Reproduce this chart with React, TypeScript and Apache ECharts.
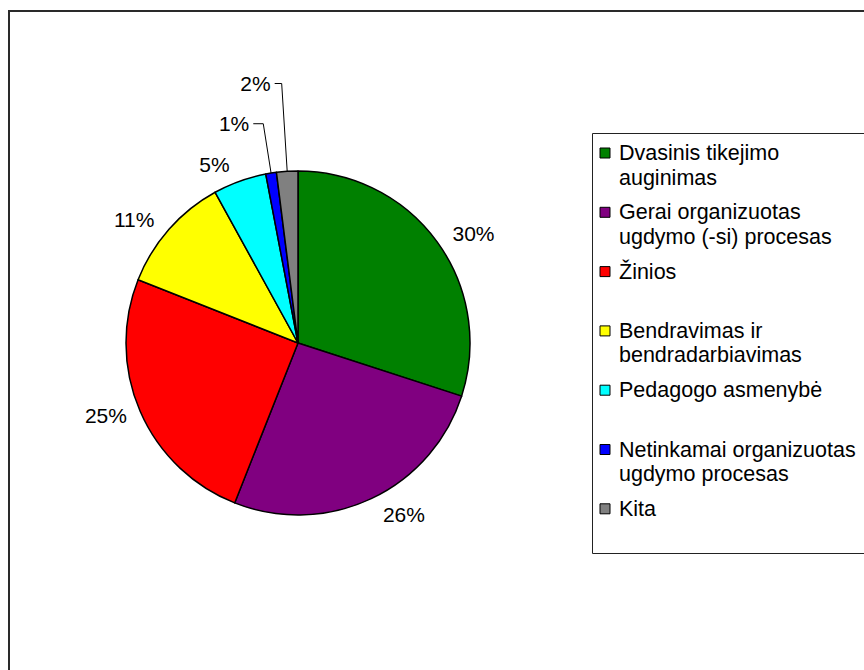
import React, { useEffect, useRef } from "react";
import * as echarts from "echarts";

const categories = [
  "Dvasinis tikejimo auginimas",
  "Gerai organizuotas ugdymo (-si) procesas",
  "Žinios",
  "Bendravimas ir bendradarbiavimas",
  "Pedagogo asmenybė",
  "Netinkamai organizuotas ugdymo procesas",
  "Kita",
];
const legendLabels = [
  "Dvasinis tikejimo\nauginimas",
  "Gerai organizuotas\nugdymo (-si) procesas",
  "Žinios",
  "Bendravimas ir\nbendradarbiavimas",
  "Pedagogo asmenybė",
  "Netinkamai organizuotas\nugdymo procesas",
  "Kita",
];
const values = [30, 26, 25, 11, 5, 1, 2];
const colors = ["#008000", "#800080", "#FF0000", "#FFFF00", "#00FFFF", "#0000FF", "#808080"];
const labelLineShow = [false, false, false, false, false, true, true];
const labelLineLen = [14, 18, 10, 14, 18, 50, 88];
const labelLineLen2 = [0, 0, 0, 0, 0, 10, 7];

const FONT = '"Liberation Sans", Arial, sans-serif';

export default function App() {
  const ref = useRef<HTMLDivElement>(null);
  useEffect(() => {
    document.body.style.margin = "0";
    const chart = echarts.init(ref.current!, undefined, { renderer: "svg" });
    const legendItems: any[] = [];
    legendLabels.forEach((lab, i) => {
      const yc = 153 + i * 59.3;
      legendItems.push({
        type: "rect",
        shape: { x: 600, y: yc - 5, width: 10, height: 10 },
        style: { fill: colors[i], stroke: "#000", lineWidth: 1 },
      });
      legendItems.push({
        type: "text",
        x: 619,
        y: yc - 12.25,
        style: {
          text: lab,
          font: `21.5px ${FONT}`,
          lineHeight: 24.5,
          fill: "#000",
          verticalAlign: "top",
          align: "left",
        },
      });
    });
    chart.setOption({
      animation: false,
      backgroundColor: "#fff",
      graphic: [
        {
          type: "rect",
          shape: { x: 9, y: 11, width: 900, height: 700 },
          style: { fill: "none", stroke: "#2a2a2a", lineWidth: 2 },
        },
        {
          type: "rect",
          shape: { x: 592.5, y: 133.5, width: 300, height: 420 },
          style: { fill: "none", stroke: "#222", lineWidth: 1 },
        },
        ...legendItems,
      ],
      series: [
        {
          type: "pie",
          center: [298, 343],
          radius: 172,
          startAngle: 90,
          clockwise: true,
          avoidLabelOverlap: false,
          emphasis: { disabled: true },
          itemStyle: { borderColor: "#000", borderWidth: 1.5 },
          label: {
            show: true,
            position: "outside",
            formatter: "{c}%",
            fontSize: 21,
            fontFamily: FONT,
            color: "#000",
            distanceToLabelLine: 4,
          },
          labelLine: { lineStyle: { color: "#000", width: 1 }, smooth: false },
          data: categories.map((name, i) => ({
            name,
            value: values[i],
            itemStyle: { color: colors[i] },
            labelLine: {
              show: labelLineShow[i],
              length: labelLineLen[i],
              length2: labelLineLen2[i],
            },
          })),
        },
      ],
    });
    return () => chart.dispose();
  }, []);
  return (
    <div
      ref={ref}
      style={{ position: "absolute", left: 0, top: 0, width: 864, height: 670 }}
    />
  );
}
